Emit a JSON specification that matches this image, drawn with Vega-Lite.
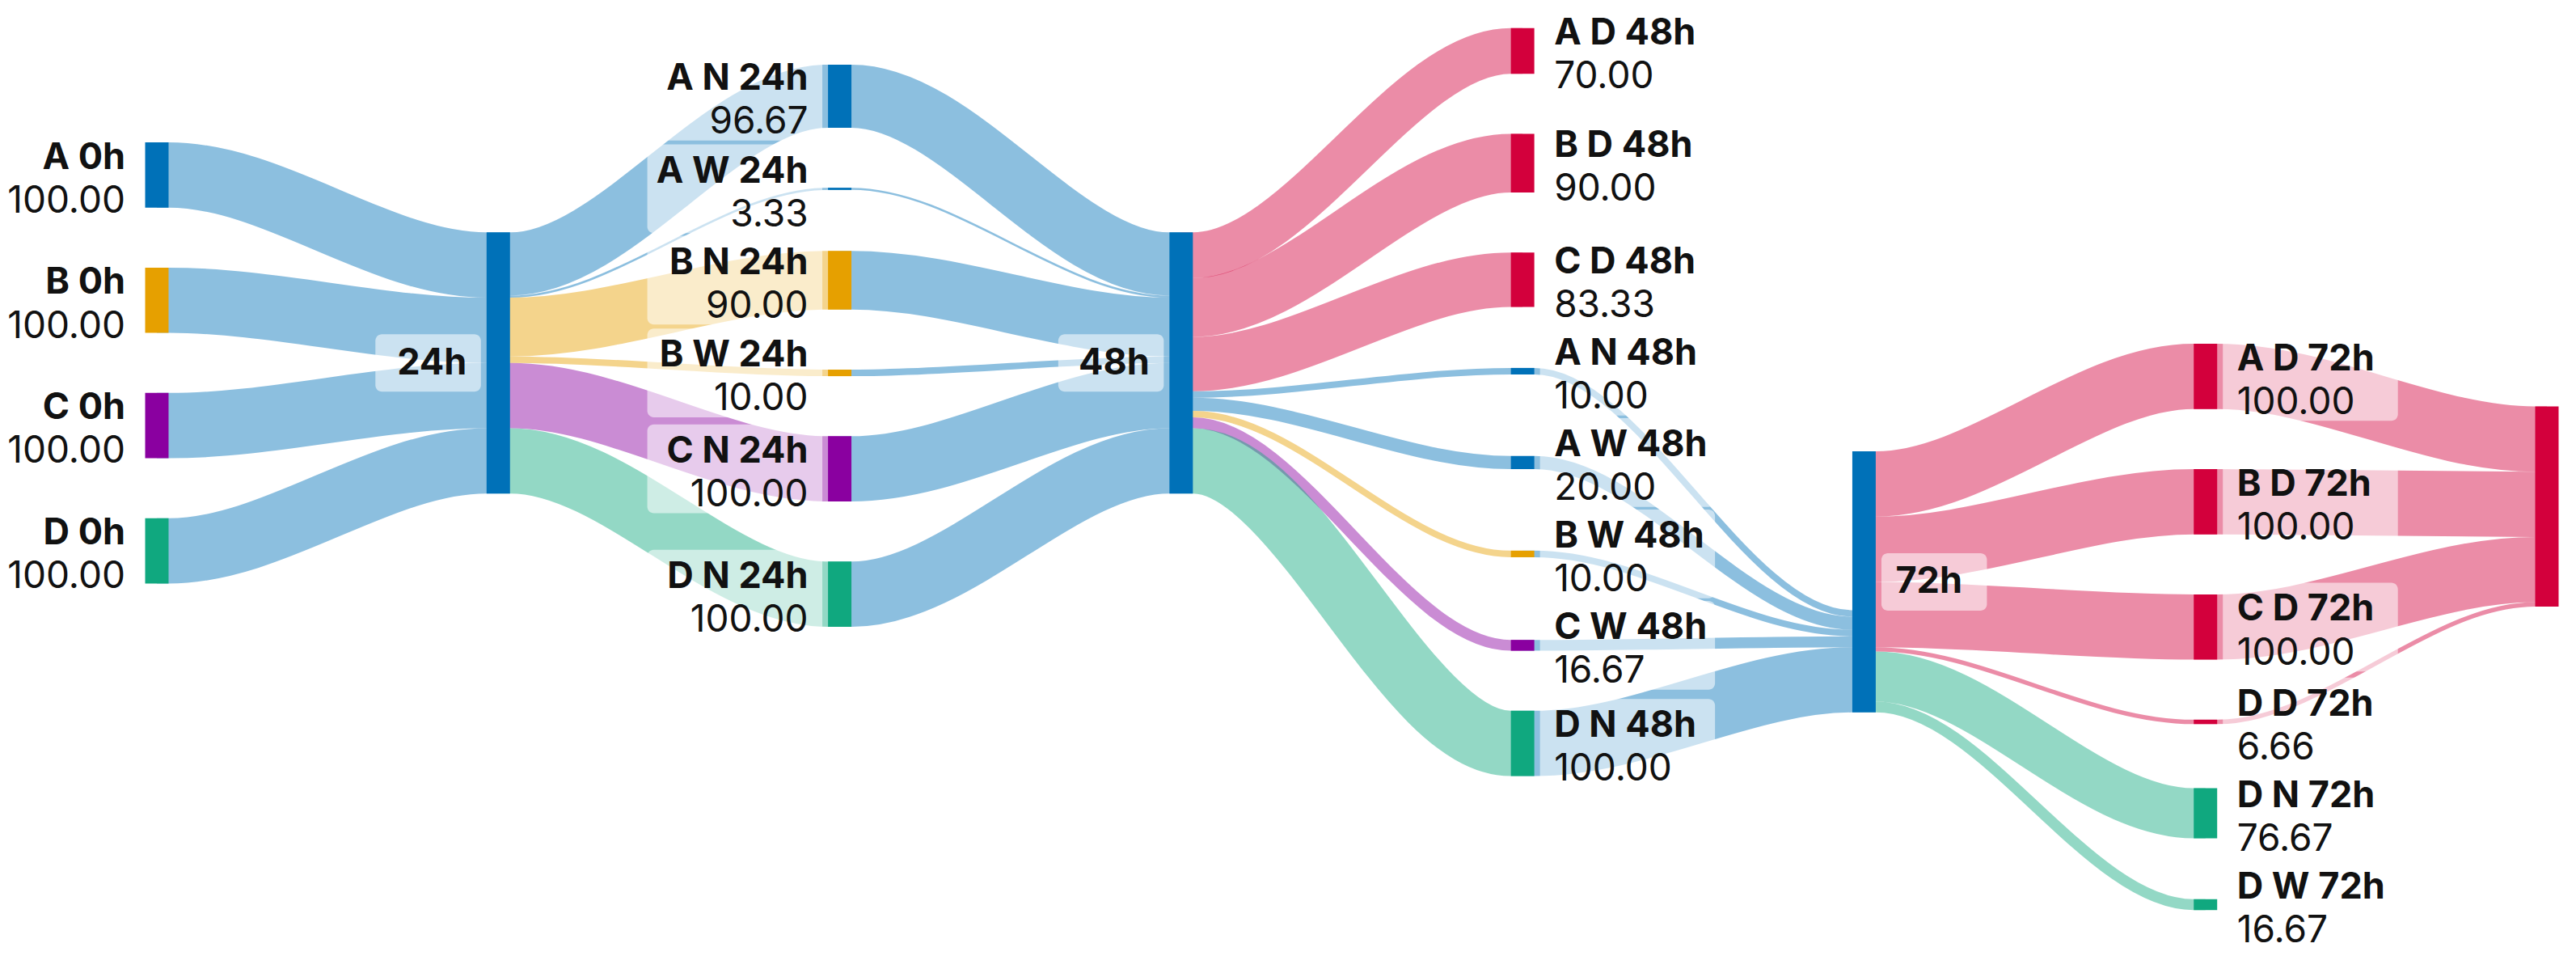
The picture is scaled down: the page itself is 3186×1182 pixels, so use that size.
{
  "$schema": "https://vega.github.io/schema/vega-lite/v6.json",
  "width": 3186,
  "height": 1182,
  "padding": 0,
  "autosize": {"type": "none"},
  "background": "white",
  "config": {"view": {"stroke": null}},
  "data": {
    "values": [
      {"node": "A 0h", "stage": 0, "group": "A", "value": 100},
      {"node": "B 0h", "stage": 0, "group": "B", "value": 100},
      {"node": "C 0h", "stage": 0, "group": "C", "value": 100},
      {"node": "D 0h", "stage": 0, "group": "D", "value": 100},
      {"node": "24h", "stage": 1, "group": "hub", "value": 400},
      {"node": "A N 24h", "stage": 2, "group": "A", "value": 96.67},
      {"node": "A W 24h", "stage": 2, "group": "A", "value": 3.33},
      {"node": "B N 24h", "stage": 2, "group": "B", "value": 90},
      {"node": "B W 24h", "stage": 2, "group": "B", "value": 10},
      {"node": "C N 24h", "stage": 2, "group": "C", "value": 100},
      {"node": "D N 24h", "stage": 2, "group": "D", "value": 100},
      {"node": "48h", "stage": 3, "group": "hub", "value": 400},
      {"node": "A D 48h", "stage": 4, "group": "Dead", "value": 70},
      {"node": "B D 48h", "stage": 4, "group": "Dead", "value": 90},
      {"node": "C D 48h", "stage": 4, "group": "Dead", "value": 83.33},
      {"node": "A N 48h", "stage": 4, "group": "A", "value": 10},
      {"node": "A W 48h", "stage": 4, "group": "A", "value": 20},
      {"node": "B W 48h", "stage": 4, "group": "B", "value": 10},
      {"node": "C W 48h", "stage": 4, "group": "C", "value": 16.67},
      {"node": "D N 48h", "stage": 4, "group": "D", "value": 100},
      {"node": "72h", "stage": 5, "group": "hub", "value": 400},
      {"node": "A D 72h", "stage": 6, "group": "Dead", "value": 100},
      {"node": "B D 72h", "stage": 6, "group": "Dead", "value": 100},
      {"node": "C D 72h", "stage": 6, "group": "Dead", "value": 100},
      {"node": "D D 72h", "stage": 6, "group": "Dead", "value": 6.66},
      {"node": "D N 72h", "stage": 6, "group": "D", "value": 76.67},
      {"node": "D W 72h", "stage": 6, "group": "D", "value": 16.67},
      {"node": "Deaths", "stage": 7, "group": "Dead", "value": 306.66},

      {"source": "A 0h", "target": "24h", "value": 100},
      {"source": "B 0h", "target": "24h", "value": 100},
      {"source": "C 0h", "target": "24h", "value": 100},
      {"source": "D 0h", "target": "24h", "value": 100},
      {"source": "24h", "target": "A N 24h", "value": 96.67},
      {"source": "24h", "target": "A W 24h", "value": 3.33},
      {"source": "24h", "target": "B N 24h", "value": 90},
      {"source": "24h", "target": "B W 24h", "value": 10},
      {"source": "24h", "target": "C N 24h", "value": 100},
      {"source": "24h", "target": "D N 24h", "value": 100},
      {"source": "A N 24h", "target": "48h", "value": 96.67},
      {"source": "A W 24h", "target": "48h", "value": 3.33},
      {"source": "B N 24h", "target": "48h", "value": 90},
      {"source": "B W 24h", "target": "48h", "value": 10},
      {"source": "C N 24h", "target": "48h", "value": 100},
      {"source": "D N 24h", "target": "48h", "value": 100},
      {"source": "48h", "target": "A D 48h", "value": 70},
      {"source": "48h", "target": "B D 48h", "value": 90},
      {"source": "48h", "target": "C D 48h", "value": 83.33},
      {"source": "48h", "target": "A N 48h", "value": 10},
      {"source": "48h", "target": "A W 48h", "value": 20},
      {"source": "48h", "target": "B W 48h", "value": 10},
      {"source": "48h", "target": "C W 48h", "value": 16.67},
      {"source": "48h", "target": "D N 48h", "value": 100},
      {"source": "A N 48h", "target": "72h", "value": 10},
      {"source": "A W 48h", "target": "72h", "value": 20},
      {"source": "B W 48h", "target": "72h", "value": 10},
      {"source": "C W 48h", "target": "72h", "value": 16.67},
      {"source": "D N 48h", "target": "72h", "value": 100},
      {"source": "72h", "target": "A D 72h", "value": 100},
      {"source": "72h", "target": "B D 72h", "value": 100},
      {"source": "72h", "target": "C D 72h", "value": 100},
      {"source": "72h", "target": "D D 72h", "value": 6.66},
      {"source": "72h", "target": "D N 72h", "value": 76.67},
      {"source": "72h", "target": "D W 72h", "value": 16.67},
      {"source": "A D 72h", "target": "Deaths", "value": 100},
      {"source": "B D 72h", "target": "Deaths", "value": 100},
      {"source": "C D 72h", "target": "Deaths", "value": 100},
      {"source": "D D 72h", "target": "Deaths", "value": 6.66}
    ]
  },
  "transform": [
    {"calculate": "isValid(datum.node) ? 'node' : 'link'", "as": "kind"},
    {"window": [{"op": "row_number", "as": "idx"}]},
    {
      "window": [
        {"op": "row_number", "as": "rank"},
        {"op": "lag", "field": "value", "as": "prevVal"}
      ],
      "groupby": ["kind", "stage"],
      "sort": [{"field": "idx", "order": "ascending"}]
    },
    {"calculate": "datum.kind === 'node' && datum.rank > 1 ? max(92, 140 - (datum.prevVal + datum.value) / 2) : 0", "as": "sp"},
    {
      "window": [
        {"op": "sum", "field": "value", "as": "cumIncl"},
        {"op": "sum", "field": "sp", "as": "spCum"}
      ],
      "groupby": ["kind", "stage"],
      "sort": [{"field": "idx", "order": "ascending"}],
      "frame": [null, 0]
    },
    {
      "joinaggregate": [
        {"op": "sum", "field": "value", "as": "colVal"},
        {"op": "sum", "field": "sp", "as": "colSp"}
      ],
      "groupby": ["kind", "stage"]
    },
    {"calculate": "datum.kind === 'node' ? datum.cumIncl - datum.value + datum.spCum - (datum.colVal + datum.colSp) / 2 : null", "as": "top0"},
    {"calculate": "datum.kind === 'node' ? datum.value : null", "as": "size"},
    {"calculate": "datum.kind === 'node' ? datum.node : datum.source", "as": "srcKey"},
    {
      "joinaggregate": [
        {"op": "max", "field": "top0", "as": "srcTop0"},
        {"op": "max", "field": "stage", "as": "srcStage"},
        {"op": "min", "field": "idx", "as": "srcIdx"}
      ],
      "groupby": ["srcKey"]
    },
    {"calculate": "datum.kind === 'node' ? datum.node : datum.target", "as": "tgtKey"},
    {
      "joinaggregate": [
        {"op": "max", "field": "top0", "as": "tgtTop0"},
        {"op": "max", "field": "size", "as": "tgtSize"},
        {"op": "max", "field": "stage", "as": "tgtStage"},
        {"op": "min", "field": "idx", "as": "tgtIdx"},
        {"op": "max", "field": "group", "as": "tgtGroup"}
      ],
      "groupby": ["tgtKey"]
    },
    {
      "window": [{"op": "sum", "field": "value", "as": "outCum"}],
      "groupby": ["kind", "source"],
      "sort": [{"field": "tgtIdx", "order": "ascending"}],
      "frame": [null, 0]
    },
    {
      "window": [{"op": "sum", "field": "value", "as": "inRest"}],
      "groupby": ["kind", "target"],
      "sort": [{"field": "srcIdx", "order": "ascending"}],
      "frame": [0, null]
    },
    {"calculate": "datum.kind === 'link' ? datum.srcTop0 + datum.outCum - datum.value / 2 : null", "as": "ys0"},
    {"calculate": "datum.kind === 'link' ? datum.tgtTop0 + datum.tgtSize - datum.inRest + datum.value / 2 : null", "as": "yt0"},
    {
      "joinaggregate": [{"op": "sum", "field": "value", "as": "pairVal"}],
      "groupby": ["kind", "srcStage"]
    },
    {"calculate": "datum.kind === 'link' ? datum.value * (datum.ys0 - datum.yt0) / datum.pairVal : 0", "as": "w"},
    {"calculate": "datum.kind === 'link' ? datum.srcStage + 0.5 : datum.stage", "as": "ord"},
    {
      "window": [{"op": "sum", "field": "w", "as": "colShift"}],
      "sort": [{"field": "ord", "order": "ascending"}],
      "frame": [null, 0]
    },
    {"calculate": "datum.kind === 'node' ? datum.top0 + datum.colShift : null", "as": "top1"},
    {"calculate": "datum.kind === 'node' ? datum.top1 + datum.value : null", "as": "bot1"},
    {
      "joinaggregate": [
        {"op": "min", "field": "top1", "as": "ext0"},
        {"op": "max", "field": "bot1", "as": "ext1"}
      ]
    },
    {"calculate": "datum.kind === 'node' ? datum.colShift - (datum.ext0 + datum.ext1) / 2 : null", "as": "shift"},
    {"calculate": "datum.kind === 'node' ? datum.top0 + datum.shift : null", "as": "top"},
    {
      "joinaggregate": [{"op": "max", "field": "shift", "as": "srcShift"}],
      "groupby": ["srcKey"]
    },
    {
      "joinaggregate": [{"op": "max", "field": "shift", "as": "tgtShift"}],
      "groupby": ["tgtKey"]
    }
  ],
  "layer": [
    {
      "transform": [
        {"filter": "datum.kind === 'link'"},
        {"calculate": "datum.ys0 + datum.srcShift", "as": "ys"},
        {"calculate": "datum.yt0 + datum.tgtShift", "as": "yt"},
        {"calculate": "datum.srcStage", "as": "p0"},
        {"calculate": "datum.srcStage + 0.035", "as": "p1"},
        {"calculate": "datum.tgtStage - 0.035", "as": "p2"},
        {"calculate": "datum.tgtStage", "as": "p3"},
        {"fold": ["p0", "p1", "p2", "p3"], "as": ["pt", "lx"]},
        {"calculate": "datum.pt === 'p0' || datum.pt === 'p1' ? datum.ys : datum.yt", "as": "ly"},
        {"calculate": "datum.source + ' > ' + datum.target", "as": "linkId"}
      ],
      "mark": {"type": "line", "interpolate": "monotone", "strokeCap": "butt", "opacity": 0.45},
      "encoding": {
        "x": {"field": "lx", "type": "quantitative", "axis": null, "scale": {"domain": [0, 7], "range": [194, 3150], "nice": false, "zero": false}},
        "y": {"field": "ly", "type": "quantitative", "axis": null, "scale": {"domain": [-718.7, 746.0], "reverse": true, "nice": false, "zero": false}},
        "detail": {"field": "linkId"},
        "color": {"field": "tgtGroup", "type": "nominal", "legend": null, "scale": {"domain": ["A", "B", "C", "D", "Dead", "hub"], "range": ["#0071B8", "#E6A000", "#8A00A0", "#10A87F", "#D3003C", "#0071B8"]}},
        "size": {"field": "value", "type": "quantitative", "legend": null, "scale": {"domain": [0, 100], "range": [0, 80.7], "zero": true}}
      }
    },
    {
      "transform": [
        {"filter": "datum.kind === 'node'"},
        {"calculate": "datum.stage - 0.0343", "as": "nx"},
        {"calculate": "datum.stage + 0.0343", "as": "nx2"},
        {"calculate": "datum.top + datum.value", "as": "bottom"}
      ],
      "mark": {"type": "rect"},
      "encoding": {
        "x": {"field": "nx", "type": "quantitative", "axis": null, "scale": {"domain": [0, 7], "range": [194, 3150], "nice": false, "zero": false}},
        "x2": {"field": "nx2"},
        "y": {"field": "top", "type": "quantitative", "axis": null, "scale": {"domain": [-718.7, 746.0], "reverse": true, "nice": false, "zero": false}},
        "y2": {"field": "bottom"},
        "color": {"field": "group", "type": "nominal", "legend": null, "scale": {"domain": ["A", "B", "C", "D", "Dead", "hub"], "range": ["#0071B8", "#E6A000", "#8A00A0", "#10A87F", "#D3003C", "#0071B8"]}}
      }
    },
    {
      "transform": [
        {"filter": "datum.kind === 'node' && datum.stage < 7"},
        {"calculate": "datum.top + datum.value / 2", "as": "cy"},
        {"calculate": "datum.group !== 'hub'", "as": "hasVal"},
        {"calculate": "length(split(datum.node, ' ')) - 1", "as": "nSp"},
        {"calculate": "32 * (length(datum.node) - datum.nSp) + 11 * datum.nSp", "as": "nameW"},
        {"calculate": "28 * (length(format(datum.value, '.2f')) - 1) + 12", "as": "valW"},
        {"calculate": "datum.hasVal ? max(datum.nameW, datum.valW) : datum.nameW", "as": "textW"},
        {"calculate": "datum.stage <= 3 ? datum.stage - (56 + datum.textW) / 422.3 : datum.stage + 21.5 / 422.3", "as": "bx"},
        {"calculate": "datum.stage <= 3 ? datum.stage - 21.5 / 422.3 : datum.stage + (56 + datum.textW) / 422.3", "as": "bx2"},
        {"calculate": "datum.cy - (datum.hasVal ? 68 : 44)", "as": "by"},
        {"calculate": "datum.cy + (datum.hasVal ? 68 : 44)", "as": "by2"}
      ],
      "mark": {"type": "rect", "color": "white", "opacity": 0.55, "cornerRadius": 8},
      "encoding": {
        "x": {"field": "bx", "type": "quantitative", "axis": null, "scale": {"domain": [0, 7], "range": [194, 3150], "nice": false, "zero": false}},
        "x2": {"field": "bx2"},
        "y": {"field": "by", "type": "quantitative", "axis": null, "scale": {"domain": [-718.7, 746.0], "reverse": true, "nice": false, "zero": false}},
        "y2": {"field": "by2"}
      }
    },
    {
      "transform": [
        {"filter": "datum.kind === 'node' && datum.stage <= 3"},
        {"calculate": "datum.top + datum.value / 2 - (datum.group === 'hub' ? 0 : 27)", "as": "nameY"}
      ],
      "mark": {"type": "text", "align": "right", "baseline": "middle", "dx": -39, "font": "Inter", "fontWeight": 700, "fontSize": 45, "color": "#111111"},
      "encoding": {
        "x": {"field": "stage", "type": "quantitative", "axis": null, "scale": {"domain": [0, 7], "range": [194, 3150], "nice": false, "zero": false}},
        "y": {"field": "nameY", "type": "quantitative", "axis": null, "scale": {"domain": [-718.7, 746.0], "reverse": true, "nice": false, "zero": false}},
        "text": {"field": "node"}
      }
    },
    {
      "transform": [
        {"filter": "datum.kind === 'node' && datum.stage >= 4 && datum.stage < 7"},
        {"calculate": "datum.top + datum.value / 2 - (datum.group === 'hub' ? 0 : 27)", "as": "nameY"}
      ],
      "mark": {"type": "text", "align": "left", "baseline": "middle", "dx": 39, "font": "Inter", "fontWeight": 700, "fontSize": 45, "color": "#111111"},
      "encoding": {
        "x": {"field": "stage", "type": "quantitative", "axis": null, "scale": {"domain": [0, 7], "range": [194, 3150], "nice": false, "zero": false}},
        "y": {"field": "nameY", "type": "quantitative", "axis": null, "scale": {"domain": [-718.7, 746.0], "reverse": true, "nice": false, "zero": false}},
        "text": {"field": "node"}
      }
    },
    {
      "transform": [
        {"filter": "datum.kind === 'node' && datum.stage <= 3 && datum.group !== 'hub'"},
        {"calculate": "datum.top + datum.value / 2 + 40", "as": "valY"}
      ],
      "mark": {"type": "text", "align": "right", "baseline": "middle", "dx": -39, "font": "Inter", "fontWeight": 400, "fontSize": 46, "color": "#111111"},
      "encoding": {
        "x": {"field": "stage", "type": "quantitative", "axis": null, "scale": {"domain": [0, 7], "range": [194, 3150], "nice": false, "zero": false}},
        "y": {"field": "valY", "type": "quantitative", "axis": null, "scale": {"domain": [-718.7, 746.0], "reverse": true, "nice": false, "zero": false}},
        "text": {"field": "value", "type": "quantitative", "format": ".2f"}
      }
    },
    {
      "transform": [
        {"filter": "datum.kind === 'node' && datum.stage >= 4 && datum.stage < 7 && datum.group !== 'hub'"},
        {"calculate": "datum.top + datum.value / 2 + 40", "as": "valY"}
      ],
      "mark": {"type": "text", "align": "left", "baseline": "middle", "dx": 39, "font": "Inter", "fontWeight": 400, "fontSize": 46, "color": "#111111"},
      "encoding": {
        "x": {"field": "stage", "type": "quantitative", "axis": null, "scale": {"domain": [0, 7], "range": [194, 3150], "nice": false, "zero": false}},
        "y": {"field": "valY", "type": "quantitative", "axis": null, "scale": {"domain": [-718.7, 746.0], "reverse": true, "nice": false, "zero": false}},
        "text": {"field": "value", "type": "quantitative", "format": ".2f"}
      }
    }
  ]
}
